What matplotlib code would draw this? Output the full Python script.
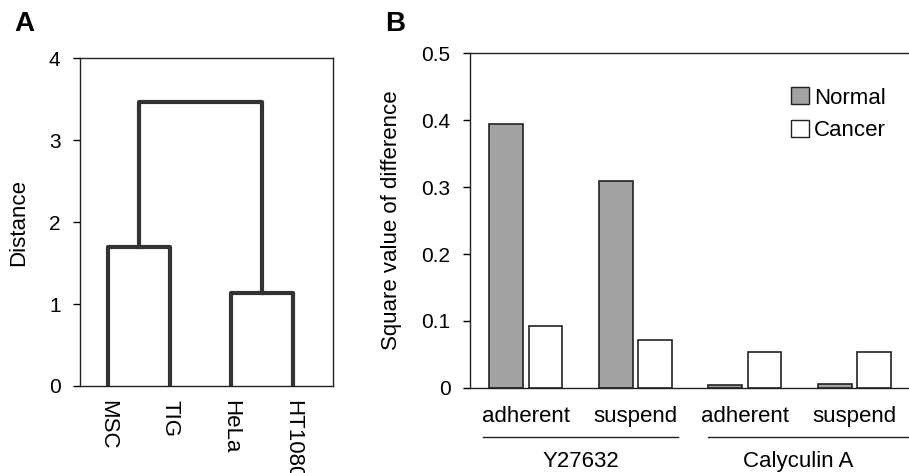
import matplotlib.pyplot as plt
from matplotlib.patches import Patch

plt.rcParams['font.family'] = ['Liberation Sans', 'DejaVu Sans']

# panel A: dendrogram
leaves = ['MSC', 'TIG', 'HeLa', 'HT1080']
leaf_pos = [1, 2, 3, 4]
merge_msc_tig = 1.70
merge_hela_ht = 1.14
merge_top = 3.47

# panel B: bars
conditions = ['adherent', 'suspend', 'adherent', 'suspend']
drugs = ['Y27632', 'Calyculin A']
normal = [0.394, 0.310, 0.005, 0.006]
cancer = [0.092, 0.072, 0.053, 0.053]

fig = plt.figure(figsize=(9.09, 4.73), dpi=100)
line_col = '#333333'
fs = 16

### Panel A
axA = fig.add_axes([0.088, 0.184, 0.278, 0.693])
lw = 3.0
x1, x2, x3, x4 = leaf_pos
m1 = (x1 + x2) / 2
m2 = (x3 + x4) / 2
axA.plot([x1, x1, x2, x2], [0, merge_msc_tig, merge_msc_tig, 0], color=line_col, lw=lw)
axA.plot([x3, x3, x4, x4], [0, merge_hela_ht, merge_hela_ht, 0], color=line_col, lw=lw)
axA.plot([m1, m1, m2, m2], [merge_msc_tig, merge_top, merge_top, merge_hela_ht], color=line_col, lw=lw)
axA.set_xlim(0.546, 4.65)
axA.set_ylim(0, 4)
axA.set_yticks([0, 1, 2, 3, 4])
axA.set_xticks(leaf_pos)
axA.set_xticklabels(leaves, rotation=270, va='top', ha='center')
axA.tick_params(axis='x', length=0, pad=10, labelsize=fs)
axA.tick_params(axis='y', length=5, width=1, direction='out', labelsize=15, pad=9)
axA.set_ylabel('Distance', fontsize=fs, labelpad=14)
for s in axA.spines.values():
    s.set_linewidth(1.0)
    s.set_color('#222222')
fig.text(0.016, 0.95, 'A', fontsize=20, fontweight='bold', va='center')

### Panel B
axB = fig.add_axes([0.517, 0.180, 0.483, 0.707])
xs = range(len(conditions))
off = 0.18
w = 0.31
axB.bar([x - off for x in xs], normal, width=w, color='#a3a3a3', edgecolor='#222222', lw=1.2, label='Normal')
axB.bar([x + off for x in xs], cancer, width=w, color='white', edgecolor='#222222', lw=1.2, label='Cancer')
axB.set_xlim(-0.51, 3.5)
axB.set_ylim(0, 0.5)
axB.set_yticks([0, 0.1, 0.2, 0.3, 0.4, 0.5])
axB.set_yticklabels(['0', '0.1', '0.2', '0.3', '0.4', '0.5'])
axB.set_xticks(list(xs))
axB.set_xticklabels(conditions)
axB.tick_params(axis='x', length=0, pad=13, labelsize=fs)
axB.tick_params(axis='y', length=5, width=1, direction='out', labelsize=15, pad=9)
axB.spines['right'].set_visible(False)
for s in axB.spines.values():
    s.set_linewidth(1.0)
    s.set_color('#222222')
axB.set_ylabel('Square value of difference', fontsize=fs, labelpad=14)

# group underlines and drug names
trans = axB.get_xaxis_transform()
group_spans = [(-0.39, 1.39), (1.66, 3.5)]
for (a, b), name in zip(group_spans, drugs):
    axB.plot([a, b], [-0.147, -0.147], transform=trans, color='#222222', lw=1.0, clip_on=False)
axB.text(0.5, -0.221, drugs[0], transform=trans, ha='center', va='center', fontsize=fs)
axB.text(2.49, -0.221, drugs[1], transform=trans, ha='center', va='center', fontsize=fs)

handles = [Patch(facecolor='#a3a3a3', edgecolor='#222222', label='Normal'),
           Patch(facecolor='white', edgecolor='#222222', label='Cancer')]
axB.legend(handles=handles, loc='upper right', bbox_to_anchor=(0.968, 0.925), frameon=False,
           fontsize=fs, handlelength=0.8, handleheight=0.8, handletextpad=0.25, labelspacing=0.5,
           borderaxespad=0)
fig.text(0.424, 0.95, 'B', fontsize=20, fontweight='bold', va='center')

plt.savefig('out.png', dpi=100)
